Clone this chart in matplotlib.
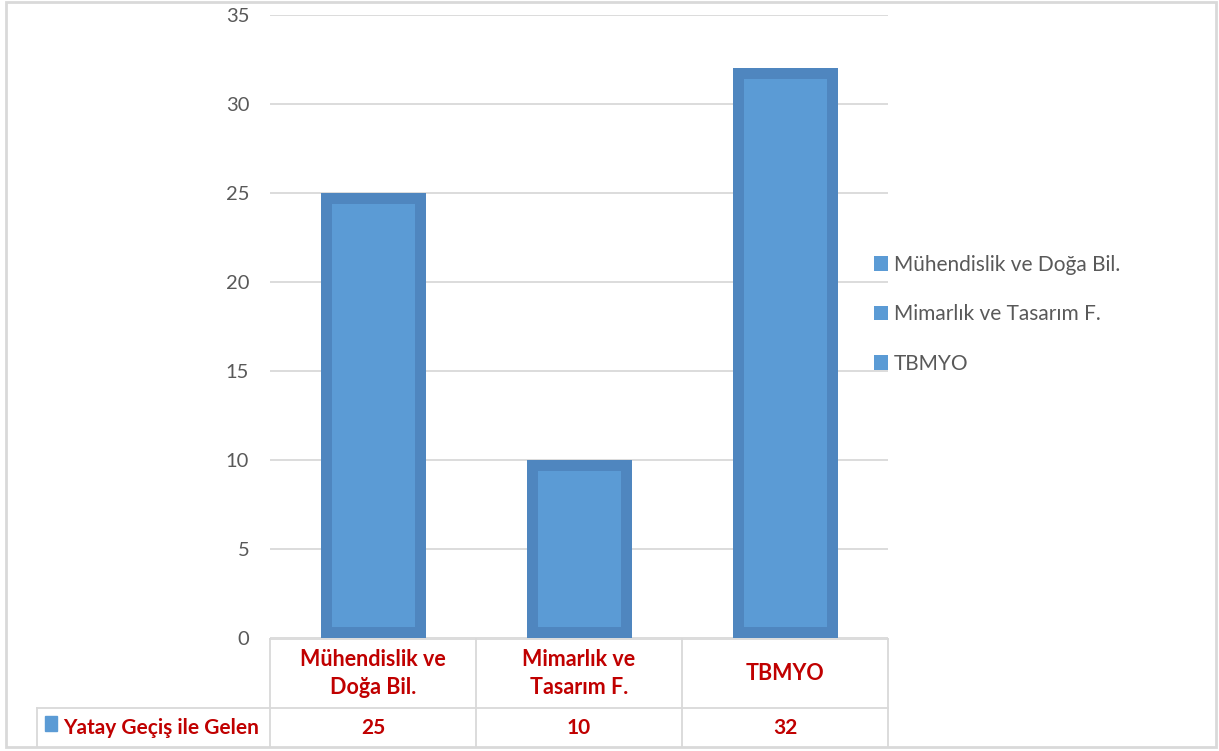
import matplotlib.pyplot as plt
from matplotlib.patches import Patch, Rectangle

plt.rcParams['font.family'] = ['Lato', 'DejaVu Sans']

categories = ['Mühendislik ve\nDoğa Bil.', 'Mimarlık ve\nTasarım F.', 'TBMYO']
legend_labels = ['Mühendislik ve Doğa Bil.', 'Mimarlık ve Tasarım F.', 'TBMYO']
values = [25, 10, 32]
series_name = 'Yatay Geçiş ile Gelen'
yticks = [0, 5, 10, 15, 20, 25, 30, 35]

W, H = 1219, 751
fig = plt.figure(figsize=(W / 100, H / 100), dpi=100)

# axes placed in pixel terms
x0, x1 = 270, 888
y_top, y_zero = 15, 638
ax = fig.add_axes([x0 / W, 1 - y_zero / H, (x1 - x0) / W, (y_zero - y_top) / H])

edge_c = '#4f86bf'
fill_c = '#5b9bd5'
grid_c = '#d9d9d9'
red = '#c00000'

px_per_unit = (y_zero - y_top) / 35
cat_px = (x1 - x0) / len(values)
border = 11  # px
outer_w = 105 / cat_px
inner_w = outer_w - 2 * border / cat_px
dy = border / px_per_unit

xs = list(range(len(values)))
ax.bar(xs, values, width=outer_w, color=edge_c, zorder=3)
ax.bar(xs, [v - 2 * dy for v in values], bottom=dy, width=inner_w, color=fill_c, zorder=4)

ax.set_xlim(-0.5, len(values) - 0.5)
ax.set_ylim(0, 35)
ax.set_yticks(yticks)
ax.set_yticklabels([str(t) for t in yticks], fontsize=14.5, color='#595959')
ax.tick_params(axis='y', length=0, pad=15)
ax.set_xticks([])
ax.grid(axis='y', color=grid_c, linewidth=1.3, zorder=0)
for s in ax.spines.values():
    s.set_visible(False)

# data table below the axes
def fy(py):
    return 1 - py / H

def fx(px):
    return px / W

line_kw = dict(color=grid_c, linewidth=1.3)
hdr_top, hdr_bot, row_bot = 639, 708, 747
label_left = 37
fig.add_artist(plt.Line2D([fx(x0), fx(x1)], [fy(hdr_top)] * 2, **line_kw))
fig.add_artist(plt.Line2D([fx(label_left), fx(x1)], [fy(hdr_bot)] * 2, **line_kw))
fig.add_artist(plt.Line2D([fx(label_left), fx(label_left)], [fy(hdr_bot), fy(row_bot)], **line_kw))
for i in range(len(values) + 1):
    xp = x0 + i * cat_px
    fig.add_artist(plt.Line2D([fx(xp), fx(xp)], [fy(hdr_top), fy(row_bot)], **line_kw))

for i, (cat, v) in enumerate(zip(categories, values)):
    xc = x0 + (i + 0.5) * cat_px
    fig.text(fx(xc), fy((hdr_top + hdr_bot) / 2), cat, ha='center', va='center',
             fontsize=15.5, fontweight='bold', color=red, linespacing=1.45)
    fig.text(fx(xc), fy((hdr_bot + row_bot) / 2), str(v), ha='center', va='center',
             fontsize=15, fontweight='bold', color=red)

fig.patches.append(Rectangle((fx(45), fy(731)), 12 / W, 15 / H, transform=fig.transFigure,
                             color=fill_c, figure=fig))
fig.text(fx(63), fy((hdr_bot + row_bot) / 2), series_name, ha='left', va='center',
         fontsize=15, fontweight='bold', color=red)

# legend
handles = [Patch(facecolor=fill_c, edgecolor='none') for _ in legend_labels]
fig.legend(handles, legend_labels, loc='upper left', bbox_to_anchor=(fx(855), fy(236)),
           frameon=False, fontsize=15, labelcolor='#595959', handlelength=0.7,
           handleheight=0.7, handletextpad=0.25, labelspacing=1.42)

# outer chart border
fig.patches.append(Rectangle((fx(6), fy(747)), (1216 - 6) / W, (747 - 2) / H,
                             transform=fig.transFigure, fill=False,
                             edgecolor=grid_c, linewidth=2, figure=fig))

fig.savefig('out.png', dpi=100)
